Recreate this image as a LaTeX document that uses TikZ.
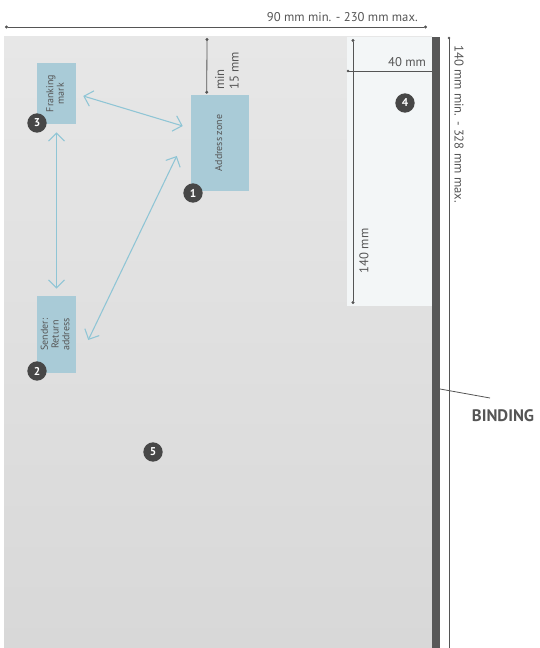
\documentclass[tikz,border=0pt]{standalone}
\usepackage{fontspec}
\setmainfont{PT Sans}
\usetikzlibrary{arrows.meta,calc}
\definecolor{paperhi}{HTML}{E7E7E7}
\definecolor{paperlo}{HTML}{D8D8D8}
\definecolor{zonefill}{HTML}{F3F6F7}
\definecolor{boxblue}{HTML}{A9CBD7}
\definecolor{arrowblue}{HTML}{8FC5D5}
\definecolor{inkgray}{HTML}{555555}
\definecolor{badgegray}{HTML}{474747}
\definecolor{bindgray}{HTML}{585858}
\newcommand{\vlabel}[1]{\rotatebox{90}{\begin{tabular}{@{}c@{}}#1\end{tabular}}}
\tikzset{
  field/.style={fill=boxblue, inner sep=0pt, text=inkgray,
    font=\fontsize{7.5}{8}\selectfont},
  badge/.style={circle, fill=badgegray, text=white, inner sep=0pt,
    minimum size=14.5pt, font=\fontsize{8.5}{9}\selectfont\bfseries},
  link/.style={draw=arrowblue, line width=0.8pt,
    {Straight Barb[length=6pt,width=12pt]}-{Straight Barb[length=6pt,width=12pt]}},
  dimline/.style={draw=inkgray, line width=0.6pt,
    {Circle[length=2.2pt]}-{Circle[length=2.2pt]}},
  dimtext/.style={text=inkgray, inner sep=0pt,
    font=\fontsize{9.5}{11}\selectfont},
}
\begin{document}
\begin{tikzpicture}[x=0.75pt, y=-0.75pt]
  \useasboundingbox (0,0) rectangle (539,648);
  \fill[top color=paperhi, bottom color=paperlo] (4,37) rectangle (432,648);
  \fill[zonefill] (347,37) rectangle (432,306);
  \fill[bindgray] (432,37) rectangle (440,648);

  \node[field, minimum width=29.25pt, minimum height=45.75pt] (frank) at (56.5,93.5)
    {\vlabel{Franking\\mark}};
  \node[field, minimum width=43.5pt, minimum height=72pt] (addr) at (220,143)
    {\vlabel{Address zone}};
  \node[field, minimum width=29.25pt, minimum height=57.75pt] (sender) at (56.5,334.5)
    {\vlabel{Sender:\\Return\\address}};

  \node[badge] (b1) at (193,193) {1};
  \node[badge] (b2) at (37,371) {2};
  \node[badge] (b3) at (37,123) {3};
  \node[badge] (b4) at (405,103) {4};
  \node[badge] (b5) at (153,452) {5};

  \begin{scope}[link]
    \draw ($(frank.east)+(7,2.5)$) -- ($(addr.west)+(-8,-17)$);
    \draw ($(frank.south)+(0,8)$) -- ($(sender.north)+(0,-7)$);
    \draw ($(sender.east)+(12,5.5)$) -- ($(addr.west)+(-14,13)$);
  \end{scope}

  \coordinate (wl) at (5,27);
  \coordinate (wr) at (427,27);
  \coordinate (htop) at (449,38);
  \coordinate (hbot) at (449,648);
  \coordinate (mtop) at (207,38);
  \coordinate (mbot) at ($(addr.north west)+(16,-1)$);
  \coordinate (ztop) at (353,39);
  \coordinate (zbot) at (353,304);
  \coordinate (zleft) at (348,71);
  \coordinate (zright) at (432,71);
  \coordinate (bind) at (440,389);
  \coordinate (leadend) at (490,398);

  \draw[dimline] (wl) -- (wr);
  \draw[dimline, -] (htop) -- (hbot);
  \fill[inkgray] (htop) circle (1.1pt);
  \draw[dimline] (mtop) -- (mbot);
  \draw[dimline] (ztop) -- (zbot);
  \draw[dimline, -] (zleft) -- (zright);
  \fill[inkgray] (zleft) circle (1.1pt);
  \draw[inkgray, line width=0.6pt] (bind) -- (leadend);

  \node[dimtext, anchor=east] (wtxt) at (418,17) {90 mm min. - 230 mm max.};
  \node[dimtext, rotate=-90, anchor=west] (htxt) at (459,45) {140 mm min. - 328 mm max.};
  \node[dimtext] (ztxt) at (407,62) {40 mm};
  \node[dimtext, rotate=90] (zhtxt) at (364,251) {140 mm};
  \node[dimtext, rotate=90, anchor=west, align=left] (mtxt) at (227,90) {min\\15 mm};
  \node[text=inkgray, inner sep=0pt, font=\fontsize{12.5}{13}\selectfont\bfseries]
    (bindtxt) at (503,416) {BINDING};
\end{tikzpicture}
\end{document}
